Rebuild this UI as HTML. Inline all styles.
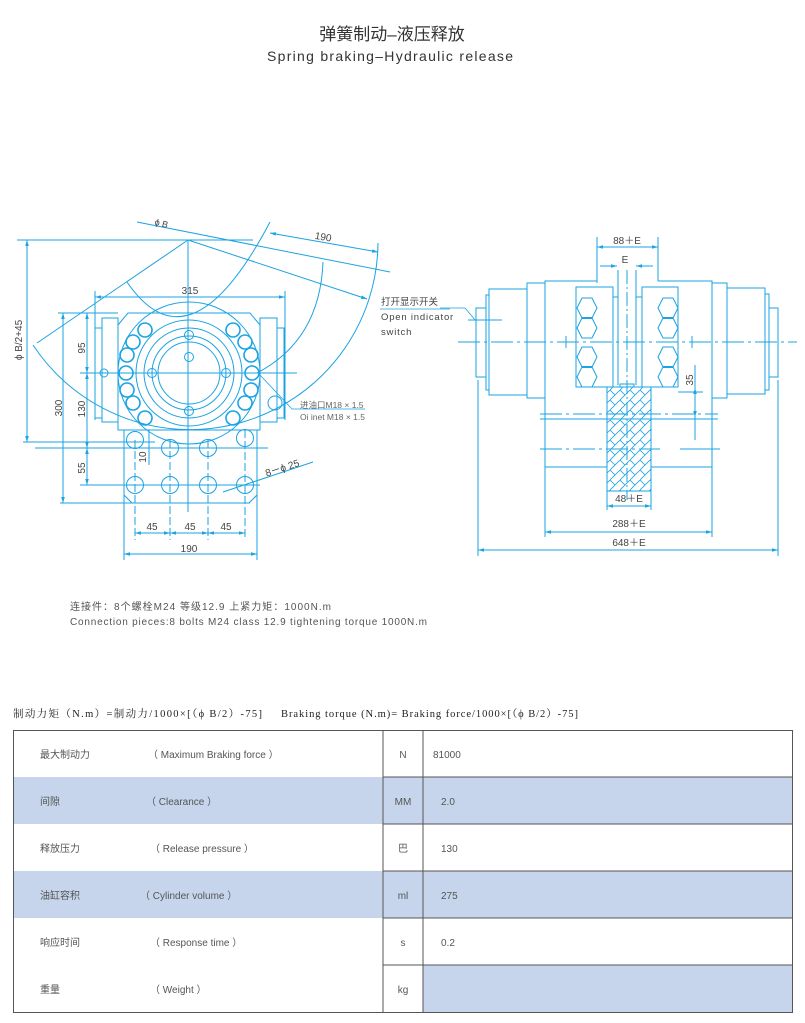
<!DOCTYPE html>
<html><head><meta charset="utf-8"><style>
html,body{margin:0;padding:0;background:#fff;}
svg{display:block;}
</style></head><body>
<svg width="805" height="1023" viewBox="0 0 805 1023" xmlns="http://www.w3.org/2000/svg" font-family="Liberation Sans, Noto Sans CJK SC, sans-serif">
<defs>
<marker id="a" viewBox="0 0 10 10" refX="10" refY="5" markerWidth="6" markerHeight="6" orient="auto-start-reverse"><path d="M0,2 L10,5 L0,8 z" fill="#1ba3e3"/></marker>
<pattern id="h" width="10" height="10" patternUnits="userSpaceOnUse"><path d="M0,10 L10,0 M0,0 L5,5" stroke="#1ba3e3" stroke-width="0.8" fill="none"/></pattern>
</defs>
<text x="392" y="40" text-anchor="middle" font-size="17" fill="#333">弹簧制动–液压释放</text>
<text x="267" y="61" font-size="14" fill="#333" textLength="246" lengthAdjust="spacing">Spring braking–Hydraulic release</text>

<g stroke="#1ba3e3" stroke-width="1" fill="none">
<!-- LEFT DRAWING -->
<line x1="17" y1="240" x2="253" y2="240"/>
<line x1="137" y1="222" x2="390" y2="272"/>
<line x1="188" y1="240" x2="367" y2="299" marker-end="url(#a)"/>
<line x1="188" y1="240" x2="37" y2="343"/>
<line x1="188" y1="240" x2="188" y2="512"/>
<path d="M33 345 A188 188 0 0 0 378 243"/>
<path d="M127 282 Q190 374 270 222"/>
<path d="M323 262 Q320 340 257 373"/>
<line x1="27" y1="240" x2="27" y2="442" marker-start="url(#a)" marker-end="url(#a)"/>
<line x1="270" y1="233" x2="378" y2="252" marker-start="url(#a)" marker-end="url(#a)"/>
<path d="M118 325 L128 313 L250 313 L260 325 L260 430 L257 430 L257 495 L249 503 L132 503 L124 495 L124 430 L118 430 Z"/>
<rect x="102" y="318" width="16" height="104"/>
<rect x="95" y="328" width="7" height="90"/>
<rect x="260" y="318" width="17" height="104"/>
<rect x="277" y="328" width="7" height="90"/>
<line x1="124" y1="430" x2="257" y2="430"/>
<circle cx="189" cy="373" r="71"/>
<circle cx="189" cy="373" r="53"/>
<circle cx="189" cy="373" r="45"/>
<circle cx="189" cy="373" r="37"/>
<circle cx="189" cy="373" r="31"/>
<g stroke-width="1.6">
<circle cx="145" cy="330" r="7"/><circle cx="133" cy="342" r="7"/><circle cx="127" cy="355" r="7"/><circle cx="126" cy="373" r="7"/><circle cx="127" cy="390" r="7"/><circle cx="133" cy="403" r="7"/><circle cx="145" cy="418" r="7"/>
<circle cx="233" cy="330" r="7"/><circle cx="245" cy="342" r="7"/><circle cx="251" cy="355" r="7"/><circle cx="252" cy="373" r="7"/><circle cx="251" cy="390" r="7"/><circle cx="245" cy="403" r="7"/><circle cx="233" cy="418" r="7"/>
</g>
<circle cx="189" cy="335" r="4.5"/><circle cx="189" cy="357" r="4.5"/><circle cx="152" cy="373" r="4.5"/><circle cx="226" cy="373" r="4.5"/><circle cx="189" cy="411" r="4.5"/>
<circle cx="104" cy="373" r="4"/>
<circle cx="275" cy="403" r="7"/>
<circle cx="135" cy="440" r="8.5"/><circle cx="170" cy="448" r="8.5"/><circle cx="208" cy="448" r="8.5"/><circle cx="245" cy="438" r="8.5"/>
<circle cx="135" cy="485" r="8.5"/><circle cx="170" cy="485" r="8.5"/><circle cx="208" cy="485" r="8.5"/><circle cx="245" cy="485" r="8.5"/>
<line x1="95" y1="297" x2="285" y2="297" marker-start="url(#a)" marker-end="url(#a)"/>
<line x1="95" y1="291" x2="95" y2="420"/><line x1="285" y1="291" x2="285" y2="420"/>
<line x1="63" y1="313" x2="63" y2="503" marker-start="url(#a)" marker-end="url(#a)"/>
<line x1="87" y1="313" x2="87" y2="373" marker-start="url(#a)" marker-end="url(#a)"/>
<line x1="87" y1="373" x2="87" y2="448" marker-start="url(#a)" marker-end="url(#a)"/>
<line x1="87" y1="448" x2="87" y2="485" marker-start="url(#a)" marker-end="url(#a)"/>
<line x1="58" y1="313" x2="118" y2="313"/>
<line x1="80" y1="373" x2="297" y2="373"/>
<line x1="23" y1="442" x2="155" y2="442"/>
<line x1="35" y1="448" x2="268" y2="448"/>
<line x1="80" y1="485" x2="260" y2="485"/>
<line x1="60" y1="503" x2="250" y2="503"/>
<line x1="149" y1="430" x2="149" y2="465"/>
<line x1="135" y1="440" x2="135" y2="540" stroke-dasharray="8 3"/><line x1="170" y1="440" x2="170" y2="540" stroke-dasharray="8 3"/><line x1="208" y1="440" x2="208" y2="540" stroke-dasharray="8 3"/><line x1="245" y1="430" x2="245" y2="540" stroke-dasharray="8 3"/>
<line x1="124" y1="495" x2="124" y2="560"/><line x1="257" y1="495" x2="257" y2="560"/>
<line x1="135" y1="533" x2="170" y2="533" marker-start="url(#a)" marker-end="url(#a)"/>
<line x1="170" y1="533" x2="208" y2="533" marker-start="url(#a)" marker-end="url(#a)"/>
<line x1="208" y1="533" x2="245" y2="533" marker-start="url(#a)" marker-end="url(#a)"/>
<line x1="124" y1="554" x2="257" y2="554" marker-start="url(#a)" marker-end="url(#a)"/>
<line x1="223" y1="492" x2="313" y2="462"/>
<polyline points="260,375 292,409 365,409" stroke-width="0.8"/>
<line x1="380" y1="309" x2="450" y2="309" stroke-width="0.8"/>

<!-- RIGHT DRAWING -->
<line x1="597" y1="237" x2="597" y2="283"/><line x1="658" y1="237" x2="658" y2="281"/>
<line x1="597" y1="247" x2="658" y2="247" marker-start="url(#a)" marker-end="url(#a)"/>
<line x1="600" y1="266" x2="617" y2="266" marker-end="url(#a)"/>
<line x1="653" y1="266" x2="636" y2="266" marker-end="url(#a)"/>
<line x1="618" y1="270" x2="618" y2="385"/><line x1="636" y1="270" x2="636" y2="385"/>
<line x1="627" y1="270" x2="627" y2="500" stroke-dasharray="14 3 2 3"/>
<rect x="476" y="308" width="10" height="69"/>
<rect x="486" y="295" width="3" height="95"/>
<rect x="489" y="289" width="38" height="106"/>
<rect x="527" y="283" width="18" height="115"/>
<polyline points="597,283 597,281 545,281 545,467 607,467"/>
<rect x="576" y="287" width="37" height="100"/>
<rect x="642" y="287" width="36" height="100"/>
<line x1="613" y1="297" x2="618" y2="297"/><line x1="636" y1="297" x2="642" y2="297"/>
<rect x="620" y="384" width="14" height="3"/>
<polyline points="658,281 712,281 712,467 651,467"/>
<rect x="712" y="283" width="15" height="115"/>
<rect x="727" y="288" width="38" height="106"/>
<rect x="765" y="294" width="4" height="96"/>
<rect x="769" y="308" width="9" height="69"/>
<g id="hx">
<path d="M577 308 L582 298 L592 298 L597 308 L592 318 L582 318 Z"/>
<path d="M577 328 L582 318 L592 318 L597 328 L592 338 L582 338 Z"/>
<path d="M577 357 L582 347 L592 347 L597 357 L592 367 L582 367 Z"/>
<path d="M577 377 L582 367 L592 367 L597 377 L592 387 L582 387 Z"/>
<line x1="582" y1="318" x2="592" y2="318" stroke-width="2"/>
<line x1="582" y1="367" x2="592" y2="367" stroke-width="2"/>
</g>
<use href="#hx" transform="translate(81,0)"/>
<rect x="607" y="387" width="44" height="104" fill="url(#h)"/>
<line x1="458" y1="342" x2="797" y2="342" stroke-dasharray="22 4 3 4"/>
<line x1="566" y1="336" x2="566" y2="348"/><line x1="692" y1="336" x2="692" y2="348"/>
<line x1="540" y1="414" x2="718" y2="414" stroke-dasharray="22 4 3 4"/>
<line x1="540" y1="419" x2="718" y2="419"/>
<line x1="540" y1="449" x2="660" y2="449" stroke-dasharray="22 4 3 4"/><line x1="680" y1="449" x2="720" y2="449"/>
<line x1="695" y1="365" x2="695" y2="440"/>
<line x1="695" y1="396" x2="695" y2="388" marker-end="url(#a)"/>
<line x1="695" y1="408" x2="695" y2="417" marker-end="url(#a)"/>
<line x1="678" y1="392" x2="703" y2="392"/>
<line x1="607" y1="491" x2="607" y2="510"/><line x1="651" y1="491" x2="651" y2="510"/>
<line x1="607" y1="506" x2="651" y2="506" marker-start="url(#a)" marker-end="url(#a)"/>
<line x1="545" y1="467" x2="545" y2="537"/><line x1="712" y1="467" x2="712" y2="537"/>
<line x1="545" y1="532" x2="712" y2="532" marker-start="url(#a)" marker-end="url(#a)"/>
<line x1="478" y1="380" x2="478" y2="556"/><line x1="778" y1="380" x2="778" y2="556"/>
<line x1="478" y1="550" x2="778" y2="550" marker-start="url(#a)" marker-end="url(#a)"/>
<polyline points="440,308 465,308 476,321" stroke-width="0.8"/>
<line x1="468" y1="320" x2="502" y2="320"/>
</g>

<g fill="#444" font-size="10">
<text x="155" y="226" transform="rotate(15 160 222)" font-size="9">ϕ B</text>
<text x="315" y="240" transform="rotate(10 322 236)">190</text>
<text x="190" y="294" text-anchor="middle">315</text>
<text transform="translate(22 340) rotate(-90)" text-anchor="middle">ϕ B/2+45</text>
<text transform="translate(62 408) rotate(-90)" text-anchor="middle">300</text>
<text transform="translate(85 348) rotate(-90)" text-anchor="middle">95</text>
<text transform="translate(85 409) rotate(-90)" text-anchor="middle">130</text>
<text transform="translate(85 468) rotate(-90)" text-anchor="middle">55</text>
<text transform="translate(146 457) rotate(-90)" text-anchor="middle">10</text>
<text x="152" y="530" text-anchor="middle">45</text>
<text x="190" y="530" text-anchor="middle">45</text>
<text x="226" y="530" text-anchor="middle">45</text>
<text x="189" y="552" text-anchor="middle">190</text>
<text x="264" y="472" transform="rotate(-18 280 466)">8－ϕ 25</text>
<text x="300" y="408" font-size="8.5" fill="#666">进油口M18 × 1.5</text>
<text x="300" y="420" font-size="8.5" fill="#666">Oi inet M18 × 1.5</text>
<text x="381" y="305" font-size="9.5">打开显示开关</text>
<text x="381" y="320" font-size="9.5" letter-spacing="0.8">Open indicator</text>
<text x="381" y="335" font-size="9.5" letter-spacing="0.8">switch</text>
<text x="627" y="244" text-anchor="middle">88＋E</text>
<text x="625" y="263" text-anchor="middle">E</text>
<text transform="translate(693 380) rotate(-90)" text-anchor="middle">35</text>
<text x="629" y="502" text-anchor="middle">48＋E</text>
<text x="629" y="527" text-anchor="middle">288＋E</text>
<text x="629" y="546" text-anchor="middle">648＋E</text>
<text x="70" y="610" fill="#555" textLength="261" lengthAdjust="spacing">连接件：8个螺栓M24 等级12.9 上紧力矩：1000N.m</text>
<text x="70" y="625" fill="#555" textLength="357" lengthAdjust="spacing">Connection pieces:8 bolts M24 class 12.9 tightening torque 1000N.m</text>
</g>

<g font-size="10.5" font-family="Liberation Serif, Noto Serif CJK SC, serif" fill="#222">
<text x="13" y="717" textLength="249" lengthAdjust="spacing">制动力矩（N.m）=制动力/1000×[（ϕ B/2）-75]</text>
<text x="281" y="717" textLength="297" lengthAdjust="spacing">Braking torque (N.m)= Braking force/1000×[（ϕ B/2）-75]</text>
</g>

<g>
<rect x="13" y="777" width="780" height="47" fill="#c6d5ec"/>
<rect x="13" y="871" width="780" height="47" fill="#c6d5ec"/>
<rect x="423" y="965" width="370" height="48" fill="#c6d5ec"/>
<g stroke="#555" fill="none" stroke-width="1">
<rect x="13.5" y="730.5" width="779" height="282"/>
<line x1="383" y1="730" x2="383" y2="1013"/>
<line x1="423" y1="730" x2="423" y2="1013"/>
<line x1="383" y1="777" x2="793" y2="777"/><line x1="383" y1="824" x2="793" y2="824"/>
<line x1="383" y1="871" x2="793" y2="871"/><line x1="383" y1="918" x2="793" y2="918"/>
<line x1="383" y1="965" x2="793" y2="965"/>
</g>
<g font-size="10" fill="#555">
<text x="40" y="758">最大制动力</text><text x="148" y="758">（ Maximum Braking force ）</text>
<text x="40" y="805">间隙</text><text x="146" y="805">（ Clearance ）</text>
<text x="40" y="852">释放压力</text><text x="150" y="852">（ Release pressure ）</text>
<text x="40" y="899">油缸容积</text><text x="140" y="899">（ Cylinder volume ）</text>
<text x="40" y="946">响应时间</text><text x="150" y="946">（ Response time ）</text>
<text x="40" y="993">重量</text><text x="150" y="993">（ Weight ）</text>
<text x="403" y="758" text-anchor="middle">N</text><text x="433" y="758">81000</text>
<text x="403" y="805" text-anchor="middle">MM</text><text x="441" y="805">2.0</text>
<text x="403" y="852" text-anchor="middle">巴</text><text x="441" y="852">130</text>
<text x="403" y="899" text-anchor="middle">ml</text><text x="441" y="899">275</text>
<text x="403" y="946" text-anchor="middle">s</text><text x="441" y="946">0.2</text>
<text x="403" y="993" text-anchor="middle">kg</text>
</g>
</g>
</svg>
</body></html>
